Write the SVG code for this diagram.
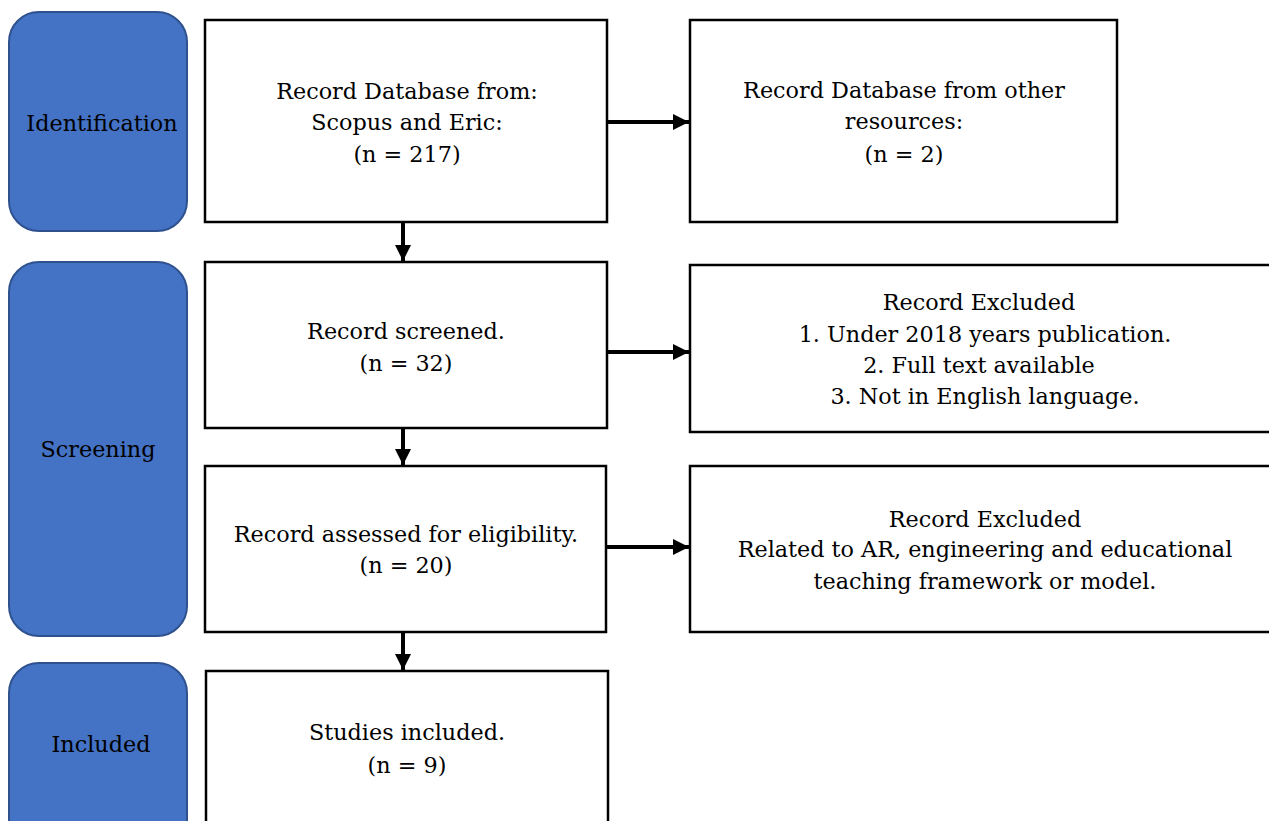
<svg xmlns="http://www.w3.org/2000/svg" width="1269" height="821" viewBox="0 0 1269 821">
<style>
.phase{fill:#4472C4;stroke:#2F528F;stroke-width:2}
.box{fill:#fff;stroke:#000;stroke-width:2.5}
text{font-family:"DejaVu Serif","Liberation Serif",serif;font-size:22.3px;fill:#000;text-anchor:middle}
.conn{stroke:#000;stroke-width:4;fill:none}
</style>
<defs>
<marker id="ah" markerWidth="4" markerHeight="4" refX="4" refY="2" orient="auto" markerUnits="strokeWidth">
<path d="M0,0 L4,2 L0,4 Z" fill="#000"/>
</marker>
</defs>
<rect width="1269" height="821" fill="#fff"/>
<g id="phase-identification"><rect class="phase" x="9" y="12" width="178" height="219" rx="30"/><text x="102" y="131">Identification</text></g>
<g id="phase-screening"><rect class="phase" x="9" y="262" width="178" height="374" rx="30"/><text x="98" y="457">Screening</text></g>
<g id="phase-included"><rect class="phase" x="9" y="663" width="178" height="190" rx="30"/><text x="101" y="752">Included</text></g>

<g id="n-db"><rect class="box" x="205" y="20" width="402" height="202"/>
<text x="407" y="99">Record Database from:</text><text x="407" y="130">Scopus and Eric:</text><text x="407" y="162">(n = 217)</text></g>
<g id="n-other"><rect class="box" x="690" y="20" width="427" height="202"/>
<text x="904" y="98">Record Database from other</text><text x="904" y="129">resources:</text><text x="904" y="162">(n = 2)</text></g>
<g id="n-screened"><rect class="box" x="205" y="262" width="402" height="166"/>
<text x="406" y="339">Record screened.</text><text x="406" y="371">(n = 32)</text></g>
<g id="n-excl1"><rect class="box" x="690" y="265" width="590" height="167"/>
<text x="979" y="310">Record Excluded</text><text x="985" y="342">1. Under 2018 years publication.</text><text x="979" y="373">2. Full text available</text><text x="985" y="404">3. Not in English language.</text></g>
<g id="n-assessed"><rect class="box" x="205" y="466" width="401" height="166"/>
<text x="406" y="542">Record assessed for eligibility.</text><text x="406" y="573">(n = 20)</text></g>
<g id="n-excl2"><rect class="box" x="690" y="466" width="590" height="166"/>
<text x="985" y="527">Record Excluded</text><text x="985" y="557">Related to AR, engineering and educational</text><text x="985" y="589">teaching framework or model.</text></g>
<g id="n-included"><rect class="box" x="206" y="671" width="402" height="180"/>
<text x="407" y="740">Studies included.</text><text x="407" y="773">(n = 9)</text></g>

<g id="connectors">
<line class="conn" x1="607" y1="122" x2="689" y2="122" marker-end="url(#ah)"/>
<line class="conn" x1="607" y1="352" x2="689" y2="352" marker-end="url(#ah)"/>
<line class="conn" x1="607" y1="547" x2="689" y2="547" marker-end="url(#ah)"/>
<line class="conn" x1="403" y1="222" x2="403" y2="261" marker-end="url(#ah)"/>
<line class="conn" x1="403" y1="428" x2="403" y2="465" marker-end="url(#ah)"/>
<line class="conn" x1="403" y1="632" x2="403" y2="670" marker-end="url(#ah)"/>
</g>
</svg>
